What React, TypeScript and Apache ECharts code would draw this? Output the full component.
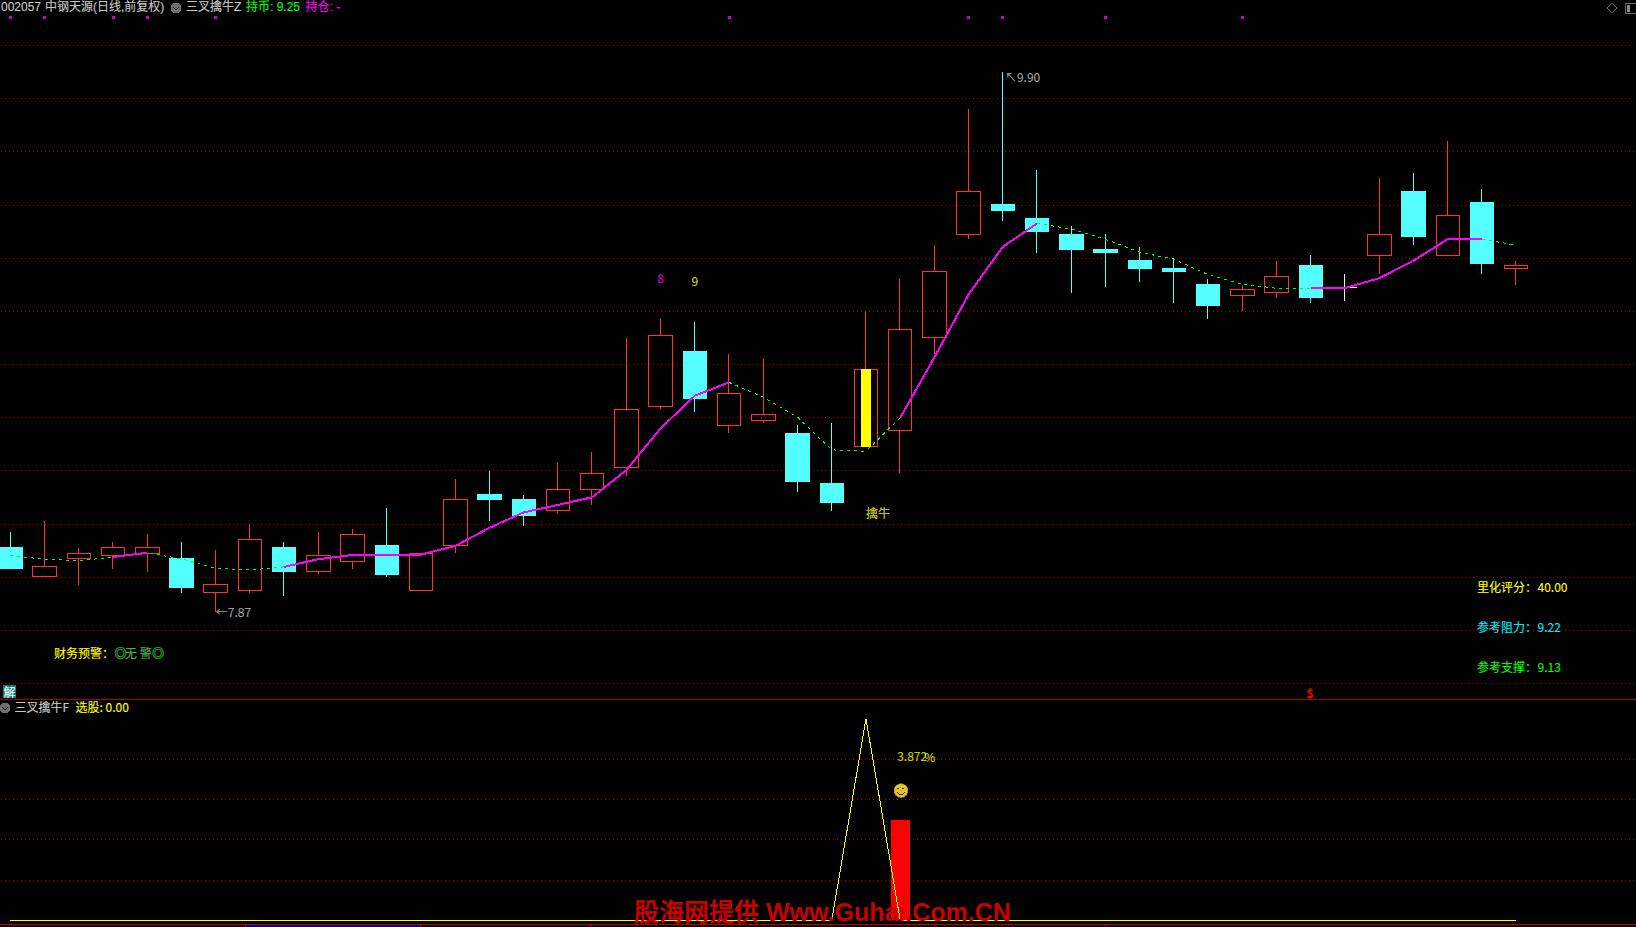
import React, { useEffect, useRef } from "react";
import * as echarts from "echarts";

// [open, close, low, high]
const candles: number[][] = [
  [8.11, 8.03, 8.03, 8.17], [8.0, 8.04, 8.0, 8.21], [8.07, 8.09, 7.97, 8.11], [8.08, 8.11, 8.03, 8.13],
  [8.09, 8.11, 8.02, 8.16], [8.07, 7.96, 7.94, 8.13], [7.94, 7.97, 7.87, 8.1], [7.95, 8.14, 7.94, 8.2],
  [8.11, 8.02, 7.93, 8.13], [8.02, 8.08, 8.01, 8.17], [8.06, 8.16, 8.03, 8.18], [8.12, 8.01, 8.0, 8.26],
  [7.95, 8.09, 7.95, 8.09], [8.12, 8.29, 8.09, 8.37], [8.31, 8.29, 8.21, 8.4], [8.29, 8.23, 8.19, 8.31],
  [8.25, 8.33, 8.24, 8.43], [8.33, 8.39, 8.27, 8.47], [8.41, 8.63, 8.38, 8.9], [8.64, 8.91, 8.63, 8.97],
  [8.85, 8.67, 8.62, 8.96], [8.57, 8.69, 8.54, 8.84], [8.59, 8.61, 8.58, 8.82], [8.54, 8.36, 8.32, 8.57],
  [8.35, 8.28, 8.25, 8.58], [8.49, 8.78, 8.49, 9.0], [8.55, 8.93, 8.39, 9.12], [8.9, 9.15, 8.84, 9.25],
  [9.29, 9.45, 9.27, 9.76], [9.4, 9.38, 9.34, 9.9], [9.35, 9.3, 9.22, 9.53], [9.29, 9.23, 9.07, 9.32],
  [9.23, 9.22, 9.09, 9.29], [9.19, 9.16, 9.11, 9.24], [9.16, 9.15, 9.03, 9.2], [9.1, 9.02, 8.97, 9.12],
  [9.06, 9.08, 9.0, 9.1], [9.07, 9.13, 9.05, 9.19], [9.17, 9.05, 9.03, 9.21], [9.09, 9.09, 9.04, 9.14],
  [9.21, 9.29, 9.14, 9.5], [9.45, 9.28, 9.25, 9.52], [9.21, 9.36, 9.21, 9.64], [9.41, 9.18, 9.14, 9.46],
  [9.16, 9.17, 9.1, 9.19],
];
const trendLine = [
  8.08, 8.067, 8.061, 8.075, 8.091, 8.068, 8.033, 8.026, 8.038, 8.067, 8.083, 8.084, 8.084, 8.117, 8.185,
  8.243, 8.271, 8.3, 8.402, 8.559, 8.682, 8.732, 8.676, 8.601, 8.478, 8.473, 8.599, 8.826, 9.063, 9.242,
  9.33, 9.309, 9.27, 9.222, 9.195, 9.137, 9.101, 9.086, 9.087, 9.087, 9.124, 9.19, 9.271, 9.271, 9.248,
];
// index ranges of the trend line that are held (magenta); the rest is dashed green
const holdRanges = [[3, 4], [8, 21], [26, 30], [38, 43]];
const waitRanges = [[0, 3], [4, 8], [21, 26], [30, 38], [43, 44]];
const signalIndex = 25;
const signalBar = [8.49, 8.78, 8.49, 8.78];
const markerIndexes = [0, 1, 3, 4, 6, 21, 28, 29, 32, 36];
const markerPrice = 10.105;
const selectPeakIndex = 25;
const selectPeak = 100;
const barIndex = 26;
const barValue = 50;
const SLOTS = 48;
const priceTicks = { min: 7.6, max: 10, interval: 0.2 };
const lowerTicks = { min: 0, max: 100, interval: 20 };

const categories = Array.from({ length: SLOTS }, (_, i) => String(i));
const CJK = '"Noto Sans CJK SC"';
const RED = "#ff3232";
const CYAN = "#54ffff";
const GRID = "#b00000";

function txt(text: string, x: number, y: number, fill: string, extra: any = {}) {
  const family = extra.header ? `"Liberation Sans", ${CJK}` : CJK;
  return {
    type: "text",
    x,
    y: y - 1.5,
    z: 50,
    silent: true,
    style: {
      text,
      fill,
      stroke: fill,
      lineWidth: extra.heavy || 0.12,
      font: `${extra.bold ? "bold " : ""}${extra.size || 12}px ${family}`,
      textAlign: extra.align || "left",
      textVerticalAlign: "middle",
    },
  };
}

function chevron(cx: number, cy: number) {
  return [
    { type: "circle", z: 50, shape: { cx, cy, r: 5.5 }, style: { fill: "#6f6f6f" } },
    {
      type: "polyline",
      z: 51,
      shape: { points: [[cx - 3, cy - 1], [cx, cy + 2], [cx + 3, cy - 1]] },
      style: { stroke: "#1c1c1c", fill: "none", lineWidth: 1.2 },
    },
  ];
}

function pick(ranges: number[][]) {
  return trendLine.map((v, i) => (ranges.some(([a, b]) => i >= a && i <= b) ? v : null));
}

function label(idx: number, price: number, text: string, color: string, position: any, offset: number[]) {
  return {
    type: "scatter",
    xAxisIndex: 0,
    yAxisIndex: 0,
    clip: false,
    symbolSize: 0.01,
    silent: true,
    data: [[idx, price]],
    label: {
      show: true,
      formatter: text,
      position,
      distance: 0,
      offset,
      color,
      textBorderColor: color,
      textBorderWidth: 0.12,
      fontSize: 12,
      fontFamily: CJK,
    },
  };
}

function lowerLabel(idx: number, value: number, text: string, offset: number[]) {
  return {
    ...label(idx, value, text, "#ffff00", "right", offset),
    xAxisIndex: 1,
    yAxisIndex: 1,
  };
}

const hiddenAxis = (gridIndex: number) => ({
  type: "category",
  gridIndex,
  data: categories,
  boundaryGap: true,
  show: false,
});
const valueAxis = (gridIndex: number, t: any, extra: any = {}) => ({
  type: "value",
  gridIndex,
  min: t.min,
  max: t.max,
  interval: t.interval,
  axisLine: { show: false },
  axisTick: { show: false },
  axisLabel: { show: false },
  splitLine: { show: true, lineStyle: { color: GRID, width: 1, type: [1, 3] }, ...extra },
});

export default function App() {
  const ref = useRef<HTMLDivElement>(null);
  useEffect(() => {
    document.body.style.margin = "0";
    document.body.style.background = "#000";
    const chart = echarts.init(ref.current!, undefined, { renderer: "svg" });
    const face = [
      { type: "circle", z: 60, shape: { cx: 901, cy: 790.7, r: 7 }, style: { fill: "#e6c21e", stroke: "#8a7410", lineWidth: 0.6 } },
      { type: "circle", z: 61, shape: { cx: 898.5, cy: 788.5, r: 0.9 }, style: { fill: "#3a3000" } },
      { type: "circle", z: 61, shape: { cx: 903.5, cy: 788.5, r: 0.9 }, style: { fill: "#3a3000" } },
      {
        type: "arc",
        z: 61,
        shape: { cx: 901, cy: 790.5, r: 4, startAngle: 0.35, endAngle: Math.PI - 0.35 },
        style: { stroke: "#3a3000", fill: "none", lineWidth: 1 },
      },
    ];
    const baseTicks = [245, 420, 591, 763, 934, 1105];
    chart.setOption({
      animation: false,
      backgroundColor: "#000",
      grid: [
        { left: -6.7, width: 1642.7, top: 45.3, height: 638, outerBoundsMode: "none" },
        { left: -6.7, width: 1642.7, top: 718.7, height: 201.7, outerBoundsMode: "none" },
      ],
      xAxis: [hiddenAxis(0), hiddenAxis(1)],
      yAxis: [valueAxis(0, priceTicks), valueAxis(1, lowerTicks, { showMinLine: false, showMaxLine: false })],
      series: [
        {
          type: "candlestick",
          xAxisIndex: 0,
          yAxisIndex: 0,
          barWidth: 24,
          data: candles,
          itemStyle: {
            color: "transparent",
            color0: CYAN,
            borderColor: RED,
            borderColor0: CYAN,
            borderColorDoji: "#ffffff",
            borderWidth: 1,
          },
        },
        {
          type: "candlestick",
          xAxisIndex: 0,
          yAxisIndex: 0,
          barWidth: 10,
          data: categories.map((_, i) => (i === signalIndex ? signalBar : ["-", "-", "-", "-"])),
          itemStyle: { color: "#ffff00", borderColor: "#ffff00", color0: "#ffff00", borderColor0: "#ffff00", borderWidth: 1 },
        },
        {
          type: "line",
          xAxisIndex: 0,
          yAxisIndex: 0,
          data: pick(waitRanges),
          showSymbol: false,
          silent: true,
          lineStyle: { color: "#00ff00", width: 1, type: [3, 4] },
        },
        {
          type: "line",
          xAxisIndex: 0,
          yAxisIndex: 0,
          data: pick(holdRanges),
          showSymbol: false,
          silent: true,
          lineStyle: { color: "#ff00ff", width: 2 },
        },
        {
          type: "scatter",
          xAxisIndex: 0,
          yAxisIndex: 0,
          clip: false,
          symbol: "rect",
          symbolSize: 3,
          silent: true,
          itemStyle: { color: "#ff00ff" },
          data: markerIndexes.map((i) => [i, markerPrice]),
        },
        label(19, 9.121, "8", "#ff00ff", "inside", [0, -1]),
        label(20, 9.111, "9", "#ffff00", "inside", [0, -1]),
        label(25, 8.237, "擒牛", "#ffff00", "right", [0, -1]),
        label(6, 7.87, "←7.87", "#c8c8c8", "right", [0, -0.5]),
        label(29, 9.9, "↖9.90", "#c8c8c8", "right", [2, 4.5]),
        {
          type: "line",
          xAxisIndex: 1,
          yAxisIndex: 1,
          clip: false,
          silent: true,
          showSymbol: false,
          lineStyle: { color: "#ffff00", width: 1 },
          data: candles.map((_, i) => (i === selectPeakIndex ? selectPeak : 0)),
        },
        {
          type: "bar",
          xAxisIndex: 1,
          yAxisIndex: 1,
          barWidth: 19,
          silent: true,
          itemStyle: { color: "#ff0000" },
          data: categories.map((_, i) => (i === barIndex ? barValue : null)),
        },
        lowerLabel(barIndex, 81.2, "3.872", [-3, -1]),
        lowerLabel(barIndex, 80.6, "%", [24, -1]),
      ],
      graphic: [
        txt("002057", 1, 8.5, "#c8c8c8", { header: true }),
        txt("中钢天源(日线,前复权)", 45, 8.5, "#c8c8c8", { header: true }),
        ...chevron(176, 8),
        txt("三叉擒牛Z", 186, 8.5, "#c8c8c8", { header: true }),
        txt("持币: 9.25", 246, 8.5, "#00ff00", { header: true }),
        txt("持仓: -", 305.5, 8.5, "#ff00ff", { header: true }),
        {
          type: "polygon",
          z: 50,
          shape: { points: [[1612, 3], [1617, 8], [1612, 13], [1607, 8]] },
          style: { fill: "none", stroke: "#6f6f6f", lineWidth: 1 },
        },
        { type: "rect", z: 50, shape: { x: 1625.5, y: 3.5, width: 12, height: 10, r: 1 }, style: { fill: "none", stroke: "#6f6f6f", lineWidth: 1 } },
        { type: "rect", z: 50, shape: { x: 1627, y: 5, width: 3, height: 7 }, style: { fill: "#8a8a8a" } },
        txt("财务预警：", 54, 654, "#ffff00"),
        txt("◎", 114.5, 654, "#2e8b2e", { bold: true, heavy: 0.5 }),
        txt("无 警", 125, 654, "#4caf50"),
        txt("◎", 152, 654, "#2e8b2e", { bold: true, heavy: 0.5 }),
        txt("里化评分：", 1477, 587.7, "#ffff00"),
        txt("40.00", 1537.5, 587.7, "#ffff00"),
        txt("参考阻力：", 1477, 627.7, "#00e8ff"),
        txt("9.22", 1537.5, 627.7, "#00e8ff"),
        txt("参考支撑：", 1477, 667.7, "#00ff00"),
        txt("9.13", 1537.5, 667.7, "#00ff00"),
        { type: "rect", z: 50, shape: { x: 3, y: 685, width: 13, height: 13 }, style: { fill: "#008080" } },
        txt("解", 3.5, 693, "#ffffff"),
        txt("$", 1310, 693.5, "#ff0000", { align: "center", bold: true }),
        { type: "line", z: 40, shape: { x1: 0, y1: 699.5, x2: 1636, y2: 699.5 }, style: { stroke: "#aa0000", lineWidth: 1 } },
        ...chevron(5, 708),
        txt("三叉擒牛F", 14.5, 708, "#c8c8c8"),
        txt("选股: 0.00", 75.5, 708, "#ffff00"),
        ...face,
        { type: "rect", z: 30, shape: { x: 245, y: 925, width: 175, height: 2 }, style: { fill: "#000080" } },
        { type: "line", z: 40, shape: { x1: 0, y1: 924.5, x2: 1636, y2: 924.5 }, style: { stroke: "#c00000", lineWidth: 1 } },
        ...baseTicks.map((x) => ({
          type: "line",
          z: 40,
          shape: { x1: x + 0.5, y1: 925, x2: x + 0.5, y2: 927 },
          style: { stroke: "#c00000", lineWidth: 1 },
        })),
        {
          type: "text",
          x: 634,
          y: 911.5,
          z: 100,
          silent: true,
          style: {
            text: "股海网提供 Www.Guhai.Com.CN",
            fill: "#c80000",
            font: `bold 25px "Liberation Sans", ${CJK}`,
            textVerticalAlign: "middle",
          },
        },
      ],
    });
    return () => chart.dispose();
  }, []);
  return (
    <>
      <style>{`svg path { shape-rendering: crispEdges; }`}</style>
      <div ref={ref} style={{ position: "fixed", left: 0, top: 0, width: 1636, height: 927 }} />
    </>
  );
}
